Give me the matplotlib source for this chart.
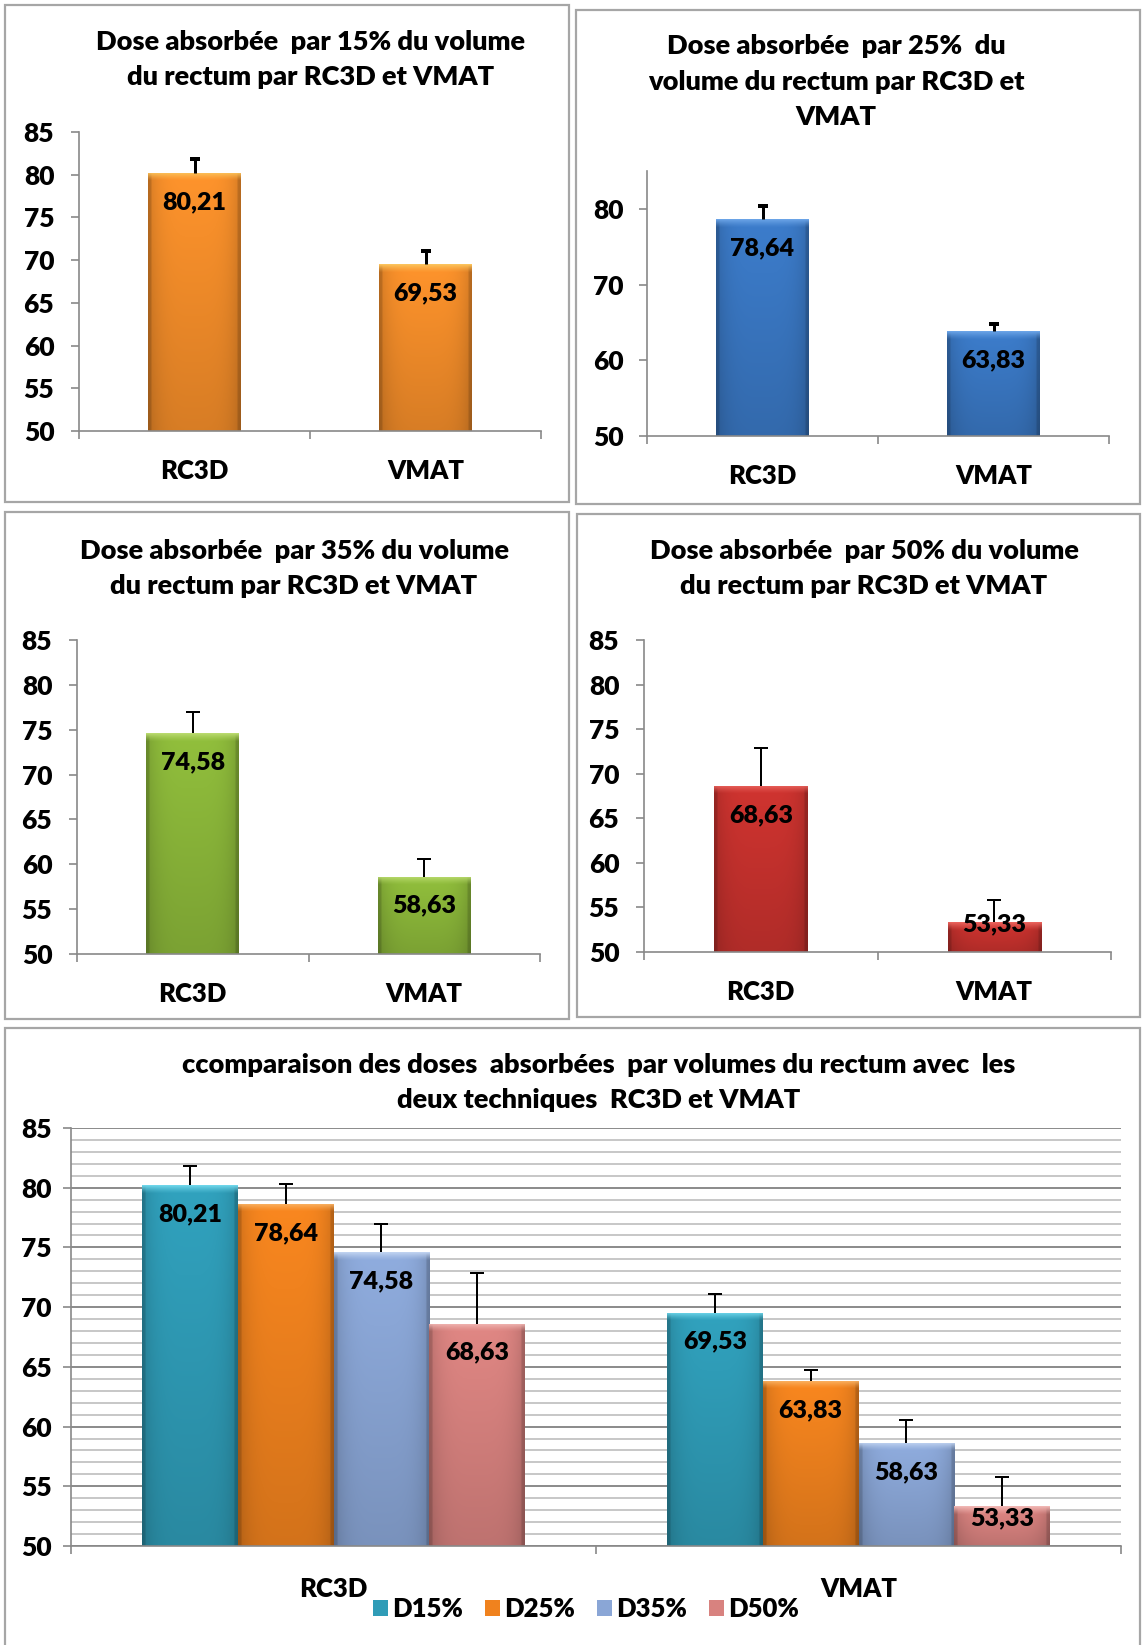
import numpy as np
import matplotlib
matplotlib.use("Agg")
import matplotlib.pyplot as plt
from matplotlib.patches import Rectangle, Patch
from matplotlib.colors import to_rgb
from matplotlib.ticker import MultipleLocator, FixedLocator, NullFormatter

plt.rcParams['font.family'] = ['Lato', 'DejaVu Sans']
plt.rcParams['font.weight'] = 'heavy'

# ---- data -------------------------------------------------------------
techniques = ['RC3D', 'VMAT']
dose_labels = ['D15%', 'D25%', 'D35%', 'D50%']

d15 = [80.21, 69.53]
d25 = [78.64, 63.83]
d35 = [74.58, 58.63]
d50 = [68.63, 53.33]

err_d15 = [1.65, 1.55]
err_d25 = [1.70, 0.90]
err_d35 = [2.35, 1.95]
err_d50 = [4.20, 2.45]

titles = {
    'd15': ['Dose absorbée  par 15% du volume', 'du rectum par RC3D et VMAT'],
    'd25': ['Dose absorbée  par 25%  du', 'volume du rectum par RC3D et', 'VMAT'],
    'd35': ['Dose absorbée  par 35% du volume', 'du rectum par RC3D et VMAT'],
    'd50': ['Dose absorbée  par 50% du volume', 'du rectum par RC3D et VMAT'],
    'all': ['ccomparaison des doses  absorbées  par volumes du rectum avec  les',
            'deux techniques  RC3D et VMAT'],
}

# ---- figure -----------------------------------------------------------
W, H, DPI = 1142, 1645, 100
fig = plt.figure(figsize=(W / DPI, H / DPI), dpi=DPI)
fig.patch.set_facecolor('white')

AXIS_GREY = '#898989'
PX = 72.0 / DPI  # points per pixel
WEIGHT = 'heavy'
TITLE_SIZE = 19.5
TICK_SIZE = 19
VALUE_SIZE = 18
CAT_SIZE = 18.5
LEGEND_SIZE = 18.5


def fig_box(left, top, right, bottom):
    return [left / W, 1 - bottom / H, (right - left) / W, (bottom - top) / H]


def frame(left, top, right, bottom):
    fig.patches.append(Rectangle((left / W, 1 - bottom / H), (right - left) / W,
                                 (bottom - top) / H, transform=fig.transFigure,
                                 fill=False, edgecolor='#A6A6A6', linewidth=1.6))


def title(lines, cx, ys, size=TITLE_SIZE):
    for line, y in zip(lines, ys):
        fig.text(cx / W, 1 - y / H, line, ha='center', va='center',
                 fontsize=size, fontweight=WEIGHT, color='black')


def shade_bar(ax, patch, base, light, ppu, ylo):
    """Paint a bevel-like gradient inside a bar patch."""
    x0, y0 = patch.get_x(), patch.get_y()
    w, h = patch.get_width(), patch.get_height()
    top = y0 + h
    bot = max(y0, ylo)
    rows = max(int((top - bot) * ppu), 4)
    cols = 80
    u = np.linspace(0, 1, cols)
    v = np.linspace(0, 1, rows)[:, None]
    fh = 1.0 - 0.16 * np.abs(2 * u - 1) ** 4
    fh[:3] *= 0.86
    fh[-3:] *= 0.86
    fv = 1.04 - 0.16 * v
    b = np.array(to_rgb(base))
    lt = np.array(to_rgb(light))
    img = np.clip(b[None, None, :] * (fh[None, :, None] * fv[:, :, None]), 0, 1)
    band = min(8, rows)
    for r in range(band):
        t = (1 - r / band) ** 1.3
        img[r] = img[r] * (1 - t) + lt * t
    im = ax.imshow(img, extent=(x0, x0 + w, bot, top), origin='upper',
                   aspect='auto', interpolation='bilinear', zorder=2.1)
    im.set_clip_path(patch)


def upper_errorbars(ax, xs, vals, errs, thick):
    if thick:
        kw = dict(elinewidth=3.0 * PX, capsize=5 * PX, capthick=4.0 * PX)
    else:
        kw = dict(elinewidth=2.0 * PX, capsize=7 * PX, capthick=2.0 * PX)
    eb = ax.errorbar(xs, vals, yerr=[np.zeros(len(errs)), errs], fmt='none',
                     ecolor='black', zorder=4, **kw)
    # keep only the cap at the upper end of each bar
    for cap in eb[1]:
        if np.allclose(cap.get_ydata(), vals):
            cap.set_visible(False)


def style_axes(ax, ymin, ymax, ystep, ncat, ypad, xpad):
    for s in ('top', 'right'):
        ax.spines[s].set_visible(False)
    for s in ('left', 'bottom'):
        ax.spines[s].set_color(AXIS_GREY)
        ax.spines[s].set_linewidth(1.2)
    ax.set_ylim(ymin, ymax)
    ax.set_xlim(-0.5, ncat - 0.5)
    ax.yaxis.set_major_locator(MultipleLocator(ystep))
    ax.tick_params(axis='y', which='major', direction='out', length=8 * PX,
                   width=1.2, color=AXIS_GREY, labelsize=TICK_SIZE, pad=ypad)
    # category separators as ticks; category names written below the axis
    ax.xaxis.set_major_locator(FixedLocator(np.arange(ncat + 1) - 0.5))
    ax.xaxis.set_major_formatter(NullFormatter())
    ax.tick_params(axis='x', which='major', direction='out', length=8 * PX,
                   width=1.2, color=AXIS_GREY)
    for i, name in enumerate(techniques):
        ax.annotate(name, xy=(i, 0), xycoords=('data', 'axes fraction'),
                    xytext=(0, -xpad), textcoords='offset points',
                    ha='center', va='top', fontsize=CAT_SIZE,
                    fontweight=WEIGHT, color='black', annotation_clip=False)
    for lab in ax.get_yticklabels():
        lab.set_fontweight(WEIGHT)
    ax.set_facecolor('none')


def value_labels(ax, bars, values, ppu, ylo):
    for p, v in zip(bars, values):
        top = p.get_y() + p.get_height()
        bot = max(p.get_y(), ylo)
        y = max(top - 29 / ppu, bot + 28 / ppu)
        ax.text(p.get_x() + p.get_width() / 2, y, f"{v:.2f}".replace('.', ','),
                ha='center', va='center', fontsize=VALUE_SIZE,
                fontweight=WEIGHT, color='black', zorder=5)


def single_panel(box, values, errs, base, light, ymin, ymax, ystep,
                 thick, ypad, xpad):
    ax = fig.add_axes(fig_box(*box))
    ppu = (box[3] - box[1]) / (ymax - ymin)
    x = np.arange(len(techniques))
    bars = ax.bar(x, values, width=0.40, color=base, edgecolor='none', zorder=2)
    for p in bars:
        shade_bar(ax, p, base, light, ppu, ymin)
    upper_errorbars(ax, x, values, errs, thick)
    value_labels(ax, bars, values, ppu, ymin)
    style_axes(ax, ymin, ymax, ystep, len(techniques), ypad, xpad)
    return ax


# ---- panel frames ------------------------------------------------------
frame(5, 5, 569, 502)
frame(576, 10, 1140, 504)
frame(5, 512, 569, 1019)
frame(577, 514, 1140, 1017)
frame(5, 1028, 1140, 1660)

# ---- four single-dose panels -----------------------------------------------
single_panel((79, 132, 541, 431), d15, err_d15, '#F58E2A', '#FBC35C',
             50, 85, 5, True, 12, 20)
title(titles['d15'], 311, [42, 77])

single_panel((647, 171, 1109, 436), d25, err_d25, '#3A78C4', '#6AA3E6',
             50, 85, 10, True, 11, 20)
title(titles['d25'], 836, [46, 82, 117])

single_panel((77, 640, 540, 954), d35, err_d35, '#8CB83A', '#B9DA6E',
             50, 85, 5, False, 12, 20)
title(titles['d35'], 294, [551, 586])

single_panel((644, 640, 1111, 952), d50, err_d50, '#C8322E', '#E8625C',
             50, 85, 5, False, 12, 20)
title(titles['d50'], 864, [551, 586])

# ---- comparison panel ----------------------------------------------------
box = (71, 1128, 1121, 1546)
ax = fig.add_axes(fig_box(*box))
ymin, ymax = 50, 85
ppu = (box[3] - box[1]) / (ymax - ymin)
series = [d15, d25, d35, d50]
errors = [err_d15, err_d25, err_d35, err_d50]
bases = ['#2F9CB7', '#F0821E', '#8AA6D6', '#D8827F']
lights = ['#6FD6EA', '#FAB466', '#BFD2F0', '#F0B6B3']
bw = 0.182
x = np.arange(len(techniques))
for i, (vals, errs, base, light) in enumerate(zip(series, errors, bases, lights)):
    xs = x + (i - 1.5) * bw
    bars = ax.bar(xs, vals, width=bw, color=base, edgecolor='none', zorder=2)
    for p in bars:
        shade_bar(ax, p, base, light, ppu, ymin)
    upper_errorbars(ax, xs, vals, errs, False)
    value_labels(ax, bars, vals, ppu, ymin)

style_axes(ax, ymin, ymax, 5, len(techniques), 8, 22)
ax.yaxis.set_minor_locator(MultipleLocator(1))
ax.tick_params(axis='y', which='minor', length=0)
ax.grid(which='major', axis='y', color='#8A8A8A', linewidth=1.4)
ax.grid(which='minor', axis='y', color='#BDBDBD', linewidth=1.2)
ax.set_axisbelow(True)
title(titles['all'], 599, [1065, 1100])

handles = [Patch(facecolor=b, edgecolor='none') for b in bases]
fig.legend(handles, dose_labels, loc='center',
           bbox_to_anchor=(586 / W, 1 - 1609 / H), ncol=4, frameon=False,
           handlelength=0.58, handleheight=0.58, handletextpad=0.16,
           columnspacing=0.85, prop={'size': LEGEND_SIZE, 'weight': WEIGHT})

fig.savefig('out.png', dpi=DPI, facecolor='white')
